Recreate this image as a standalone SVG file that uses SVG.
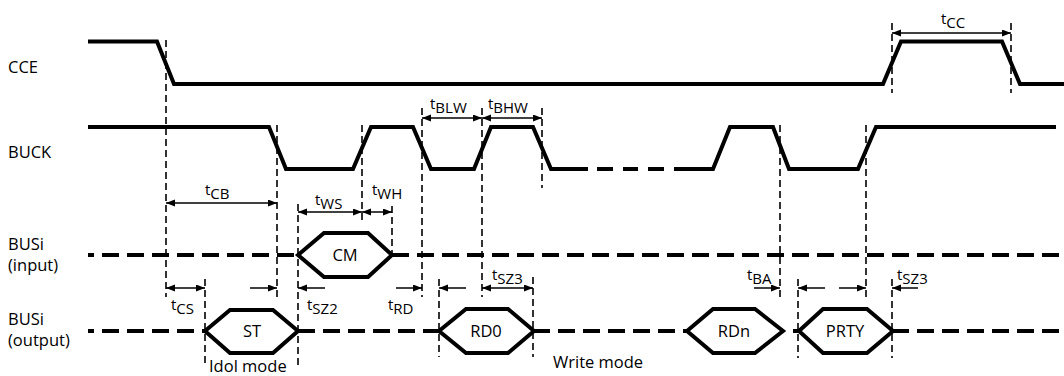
<svg xmlns="http://www.w3.org/2000/svg" width="1064" height="376" viewBox="0 0 1064 376">
<style>
text{font-family:"Open Sans","Noto Sans","DejaVu Sans",sans-serif;fill:#000}
.lbl{font-size:16.5px}
.tl{font-size:15px}
.node{font-size:16.5px;text-anchor:middle}
.sig{fill:none;stroke:#000;stroke-width:4;stroke-linejoin:miter}
.bus{fill:none;stroke:#000;stroke-width:4;stroke-dasharray:17 8}
.hex{fill:#fff;stroke:#000;stroke-width:4;stroke-linejoin:miter}
.guide{fill:none;stroke:#000;stroke-width:1.6;stroke-dasharray:7 4}
.arr{fill:none;stroke:#000;stroke-width:1.5;marker-end:url(#ah)}
.arr2{fill:none;stroke:#000;stroke-width:1.5;marker-start:url(#ah);marker-end:url(#ah)}
</style>
<defs>
<marker id="ah" markerUnits="userSpaceOnUse" markerWidth="10" markerHeight="8" refX="9" refY="3.5" orient="auto-start-reverse">
<path d="M0,0 L9,3.5 L0,7 z" fill="#000"/>
</marker>
</defs>
<rect width="1064" height="376" fill="#fff"/>

<g id="labels">
<text class="lbl" x="8" y="73">CCE</text>
<text class="lbl" x="8" y="158">BUCK</text>
<text class="lbl" x="8" y="250">BUSi</text>
<text class="lbl" x="8" y="271">(input)</text>
<text class="lbl" x="8" y="325">BUSi</text>
<text class="lbl" x="8" y="346">(output)</text>
</g>

<g id="cce">
<path class="sig" d="M88,41.5 L157,41.5 L174,84 L883,84 L901,41.5 L1002,41.5 L1020,84 L1064,84"/>
</g>

<g id="buck">
<path class="sig" d="M88,127 L269,127 L286,169 L353,169 L371,127 L413,127 L431,169 L474,169 L491,127 L533,127 L551,169 L588,169"/>
<path class="sig" d="M597,169 L613,169 M623,169 L638,169 M648,169 L664,169"/>
<path class="sig" d="M674,169 L713,169 L730,127 L773,127 L789,169 L858,169 L876,127 L1056,127"/>
</g>

<g id="busi-input">
<path class="bus" d="M88,255 L298,255" stroke-dashoffset="11"/>
<path class="bus" d="M392,255 L1060,255"/>
</g>

<g id="busi-output">
<path class="bus" d="M88,331 L205,331" stroke-dashoffset="11"/>
<path class="bus" d="M298,331 L439,331"/>
<path class="bus" d="M533,331 L687,331"/>
<path class="sig" d="M793,331 L800,331"/>
<path class="bus" d="M892,331 L1060,331"/>
</g>

<g id="node-cm">
<path class="hex" d="M298,255 L324,233 L368,233 L392,255 L368,277 L324,277 Z"/>
<text class="node" x="345" y="261">CM</text>
</g>
<g id="node-st">
<path class="hex" d="M205,331 L230,310 L273,310 L298,331 L273,353 L230,353 Z"/>
<text class="node" x="252" y="337">ST</text>
</g>
<g id="node-rd0">
<path class="hex" d="M439,331 L466,309 L508,309 L534,331 L508,353 L466,353 Z"/>
<text class="node" x="486" y="337">RD0</text>
</g>
<g id="node-rdn">
<path class="hex" d="M687,331 L713,309 L755,309 L783,331 L755,353 L713,353 Z"/>
<text class="node" x="734" y="337">RDn</text>
</g>
<g id="node-prty">
<path class="hex" d="M799,331 L823,309 L867,309 L893,331 L867,353 L823,353 Z"/>
<text class="node" x="845" y="337">PRTY</text>
</g>

<g id="connectors">
<g id="guides">
<path class="guide" d="M166,40 V297"/>
<path class="guide" d="M277,125 V297"/>
<path class="guide" d="M362,125 V222"/>
<path class="guide" d="M392,206 V258"/>
<path class="guide" d="M298,204 V367"/>
<path class="guide" d="M205,279 V367"/>
<path class="guide" d="M422,108 V297"/>
<path class="guide" d="M482,108 V297"/>
<path class="guide" d="M542,108 V188"/>
<path class="guide" d="M439,279 V357"/>
<path class="guide" d="M533,277 V357"/>
<path class="guide" d="M780,125 V297"/>
<path class="guide" d="M866,125 V297"/>
<path class="guide" d="M798,279 V358"/>
<path class="guide" d="M892,279 V358"/>
<path class="guide" d="M892,23 V93"/>
<path class="guide" d="M1011,23 V93"/>
</g>
<g id="arrows">
<path class="arr2" d="M166,203 H277"/>
<path class="arr2" d="M298,212 H362"/>
<path class="arr2" d="M362,212 H392"/>
<path class="arr2" d="M422,118 H482"/>
<path class="arr2" d="M482,118 H542"/>
<path class="arr2" d="M892,33 H1011"/>
<path class="arr2" d="M166,288 H205"/>
<path class="arr" d="M250,288 H277"/>
<path class="arr" d="M325,288 H298"/>
<path class="arr" d="M396,288 H422"/>
<path class="arr" d="M466,288 H439"/>
<path class="arr2" d="M482,288 H533"/>
<path class="arr" d="M754,288 H780"/>
<path class="arr" d="M825,288 H798"/>
<path class="arr" d="M839,288 H866"/>
<path class="arr" d="M918,288 H892"/>
</g>
</g>

<g id="timing-labels">
<text class="tl" x="205" y="195">t<tspan dy="4">CB</tspan></text>
<text class="tl" x="315" y="205">t<tspan dy="4">WS</tspan></text>
<text class="tl" x="372" y="195">t<tspan dy="4">WH</tspan></text>
<text class="tl" x="430" y="109">t<tspan dy="4">BLW</tspan></text>
<text class="tl" x="488" y="109">t<tspan dy="4">BHW</tspan></text>
<text class="tl" x="941" y="24">t<tspan dy="4">CC</tspan></text>
<text class="tl" x="171" y="310">t<tspan dy="4">CS</tspan></text>
<text class="tl" x="307" y="310">t<tspan dy="4">SZ2</tspan></text>
<text class="tl" x="388" y="310">t<tspan dy="4">RD</tspan></text>
<text class="tl" x="492" y="280">t<tspan dy="4">SZ3</tspan></text>
<text class="tl" x="747" y="280">t<tspan dy="4">BA</tspan></text>
<text class="tl" x="897" y="280">t<tspan dy="4">SZ3</tspan></text>
<text class="lbl" x="209" y="372">Idol mode</text>
<text class="lbl" x="553" y="368">Write mode</text>
</g>
</svg>
